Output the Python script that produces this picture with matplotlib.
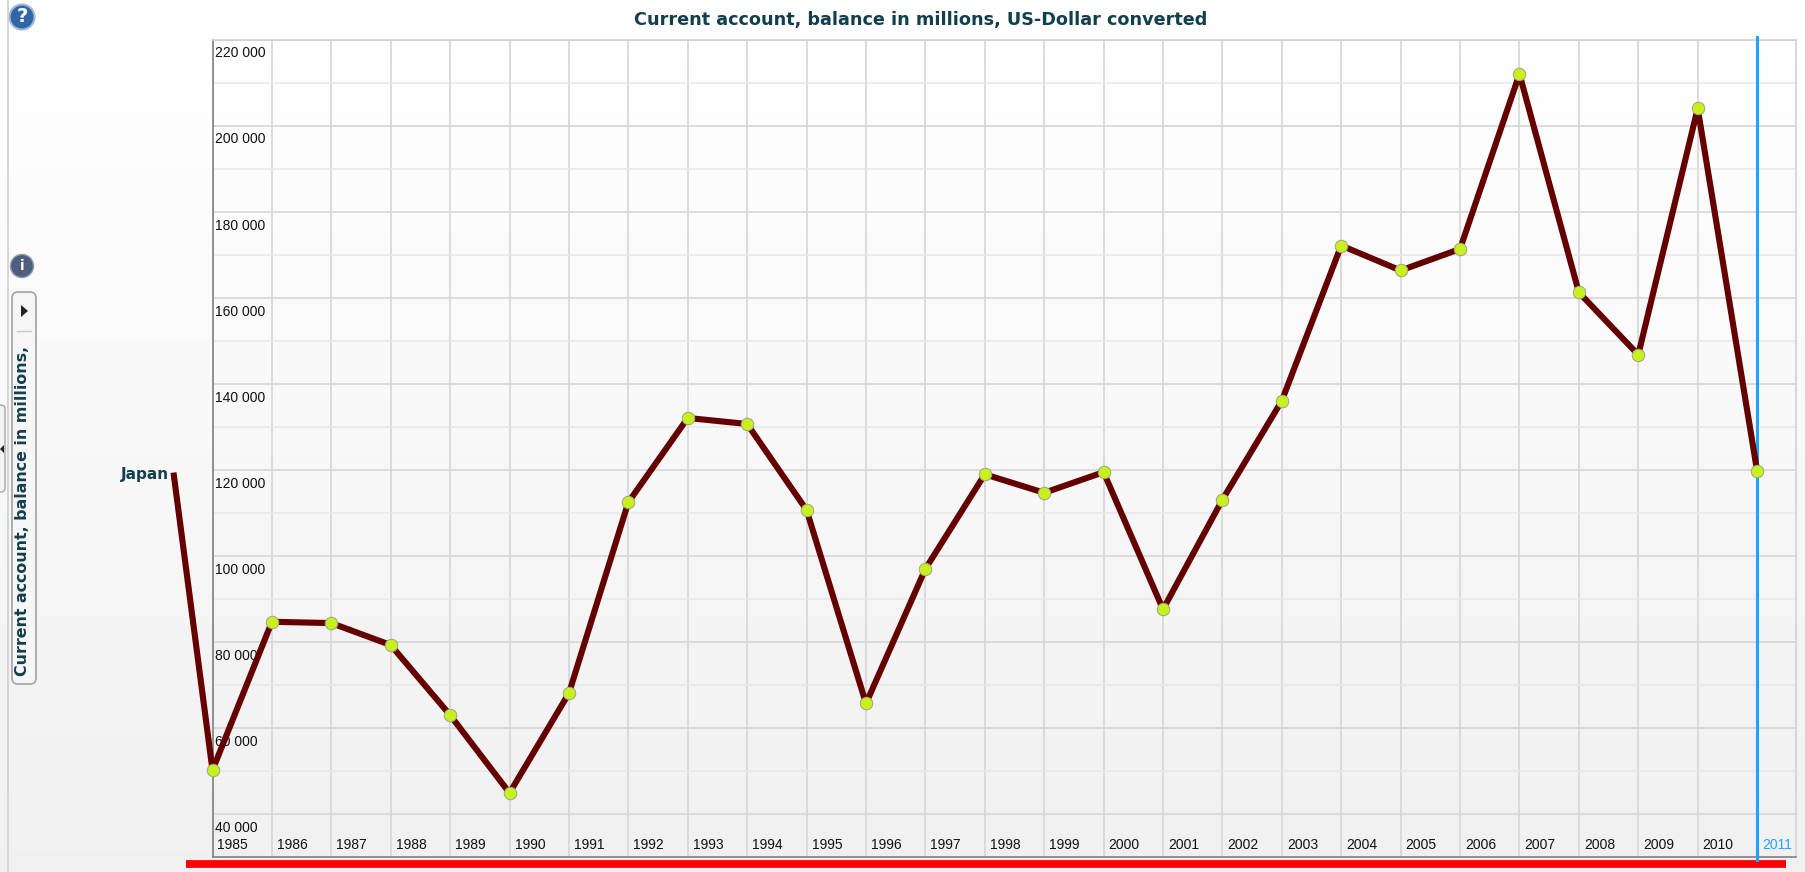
import matplotlib
matplotlib.use('Agg')
import matplotlib.pyplot as plt
from matplotlib.patches import Circle, FancyBboxPatch, Polygon
from matplotlib.transforms import ScaledTranslation
import numpy as np

W, H = 1805, 872

years = list(range(1985, 2012))
balance = [50200, 84700, 84400, 79300, 63000, 44900, 68100, 112500, 132100, 130700,
           110700, 65700, 97000, 119000, 114700, 119500, 87600, 113100, 136100,
           172200, 166400, 171400, 212100, 161300, 146800, 204100, 119800]
# the line leaves from the country label, left of the axis
label_year = 1984.35
label_balance = 118700

title = 'Current account, balance in millions, US-Dollar converted'
side_title = 'Current account, balance in millions,'
country = 'Japan'

major_y = list(range(40000, 220001, 20000))
minor_y = list(range(50000, 220000, 20000))

TEAL = '#123f4d'
NARROW = ['Liberation Sans Narrow', 'Liberation Sans', 'DejaVu Sans']

fig = plt.figure(figsize=(W / 100, H / 100), dpi=100)

# backdrop and the side controls, in pixel coordinates
bg = fig.add_axes([0, 0, 1, 1])
bg.set_xlim(0, W)
bg.set_ylim(H, 0)
bg.axis('off')
grad = np.linspace(1.0, 0.94, 256).reshape(-1, 1)
bg.imshow(grad, cmap='gray', vmin=0, vmax=1, aspect='auto', extent=[0, W, H, 0])

bg.plot([8, 8], [0, H], color='#cfcfcf', lw=1.2)
bg.add_patch(Circle((22, 17), 12.5, fc='#2f66a8', ec='#9db8d8', lw=1.5))
bg.text(22, 17, '?', color='white', fontsize=14, fontweight='bold', ha='center', va='center')
bg.add_patch(Circle((22, 266), 11.5, fc='#4d5f7c', ec='#8d9aae', lw=1))
bg.text(22, 266, 'i', color='white', fontsize=10, fontweight='bold', ha='center', va='center')

bg.add_patch(FancyBboxPatch((15, 295), 18, 386, boxstyle='round,pad=3,rounding_size=6',
                            fc='#f6f6f6', ec='#a8a8a8', lw=1.3))
bg.add_patch(Polygon([[21, 305], [21, 317], [28, 311]], fc='#222222', ec='none'))
bg.plot([17, 31], [331, 331], color='#c8c8c8', lw=1)
bg.text(23, 676, side_title, rotation=90, color=TEAL, fontsize=11.4, fontweight='bold',
        ha='center', va='bottom')

bg.add_patch(FancyBboxPatch((-8, 405), 13, 87, boxstyle='round,pad=0,rounding_size=4',
                            fc='#f4f4f4', ec='#a8a8a8', lw=1))
bg.add_patch(Polygon([[0, 449], [4, 445], [4, 453]], fc='#222222', ec='none'))

bg.text(921, 20, title, color=TEAL, fontsize=12.7, fontweight='bold', ha='center', va='center')
bg.text(169, 474, country, color=TEAL, fontsize=11, fontweight='bold', ha='right', va='center')

# red bar under the chart
bg.plot([186, 1786], [864, 864], color='#ff0000', lw=5.6, solid_capstyle='butt', zorder=5)

# chart
left, right, top, bottom = 212.5, 1796, 40, 857
ax = fig.add_axes([left / W, 1 - bottom / H, (right - left) / W, (bottom - top) / H])
ax.patch.set_alpha(0)
ax.set_xlim(1985, 2011.655)
ax.set_ylim(30000, 220000)

ax.set_yticks(major_y)
ax.set_yticks(minor_y, minor=True)
ax.set_yticklabels([f'{v // 1000} 000' for v in major_y], family=NARROW, fontsize=10, color='#111111')
ax.set_xticks(years)
ax.set_xticklabels(years, family=NARROW, fontsize=10, color='#111111')
ax.grid(True, which='major', color='#d6d6d6', lw=1.2)
ax.grid(True, which='minor', axis='y', color='#e8e8e8', lw=1.1)
ax.tick_params(which='both', length=0)
ax.tick_params(axis='y', pad=-2)
ax.tick_params(axis='x', pad=-13.5)
ax.set_axisbelow(True)

dy = ScaledTranslation(0, -6.5 / 100, fig.dpi_scale_trans)
for lab in ax.get_yticklabels():
    lab.set_ha('left')
    lab.set_va('top')
    lab.set_transform(lab.get_transform() + dy)
dx = ScaledTranslation(5 / 100, 0, fig.dpi_scale_trans)
for lab in ax.get_xticklabels():
    lab.set_ha('left')
    lab.set_transform(lab.get_transform() + dx)
ax.get_xticklabels()[-1].set_color('#1fa3ff')

for side in ['left', 'bottom']:
    ax.spines[side].set_color('#777777')
    ax.spines[side].set_linewidth(1.1)
for side in ['top', 'right']:
    ax.spines[side].set_color('#d2d2d2')
    ax.spines[side].set_linewidth(1.2)

ax.axvline(years[-1], ymin=-0.004, ymax=1.004, color='#1fa3ff', lw=2.2, clip_on=False, zorder=3)
ax.plot([label_year] + years, [label_balance] + balance, color='#650000', lw=4.4,
        clip_on=False, zorder=4, solid_joinstyle='round')
ax.plot(years, balance, ls='none', marker='o', ms=9, mfc='#c8f020', mec='#9aa67c', mew=0.7,
        clip_on=False, zorder=5)

fig.savefig('out.png', dpi=100)
